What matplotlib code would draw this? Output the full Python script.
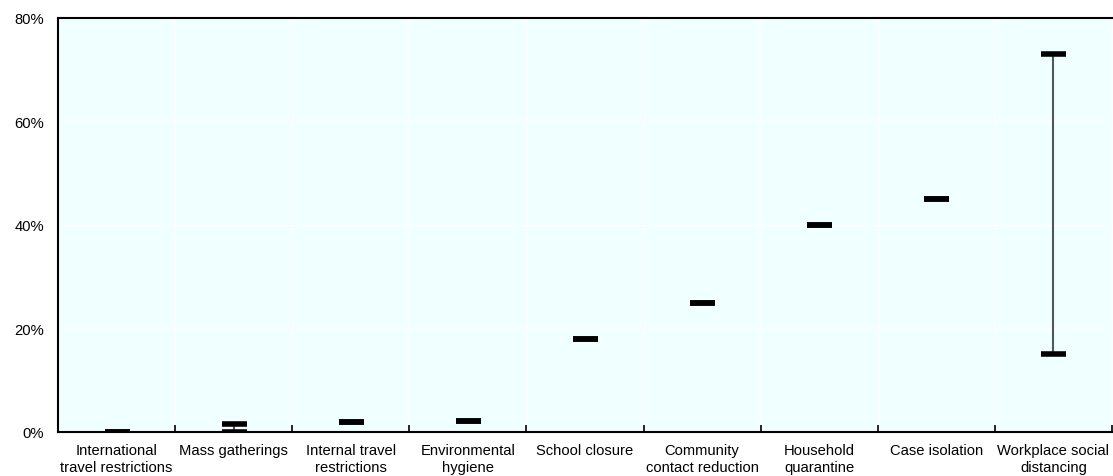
import numpy as np
import matplotlib.pyplot as plt

plt.rcParams['font.family'] = ['Liberation Sans', 'DejaVu Sans']

# Range of estimated effect per intervention (low / high, in %)
categories = ['International\ntravel restrictions', 'Mass gatherings', 'Internal travel\nrestrictions',
              'Environmental\nhygiene', 'School closure', 'Community\ncontact reduction',
              'Household\nquarantine', 'Case isolation', 'Workplace social\ndistancing']
low = [0.0, 0.0, 2.0, 2.1, 18.0, 25.0, 40.0, 45.0, 15.0]
high = [0.0, 1.5, 2.0, 2.1, 18.0, 25.0, 40.0, 45.0, 73.0]

fig = plt.figure(figsize=(11.13, 4.77), dpi=100)
ax = fig.add_axes([58 / 1113, 44 / 477, 1054 / 1113, 414 / 477])
ax.set_facecolor('#f0ffff')

x = np.arange(len(categories))
ax.vlines(x, low, high, color='#50565e', lw=1.5, zorder=2)
ax.plot(x, low, ls='none', marker='_', ms=18, mew=4, color='black', zorder=3)
ax.plot(x, high, ls='none', marker='_', ms=18, mew=4, color='black', zorder=3)

ax.set_xlim(-0.5, len(categories) - 0.5)
ax.set_ylim(0, 80)
ax.set_yticks([0, 20, 40, 60, 80])
ax.set_yticklabels(['0%', '20%', '40%', '60%', '80%'])
ax.set_xticks(x)
ax.set_xticklabels(categories, linespacing=1.3)
ax.set_xticks(np.arange(len(categories) + 1) - 0.5, minor=True)
ax.tick_params(axis='x', which='major', length=0, pad=8, labelsize=10.6)
ax.tick_params(axis='x', which='minor', length=5, direction='in', width=1.2)
ax.tick_params(axis='y', length=0, pad=10, labelsize=10.6)

ax.grid(True, which='minor', axis='x', color='white', lw=1)
ax.grid(True, which='major', axis='y', color='white', lw=1)
ax.set_axisbelow(True)

for side in ['left', 'bottom', 'top']:
    ax.spines[side].set_color('black')
    ax.spines[side].set_linewidth(1.5)
ax.spines['right'].set_visible(False)

plt.savefig('out.png')
